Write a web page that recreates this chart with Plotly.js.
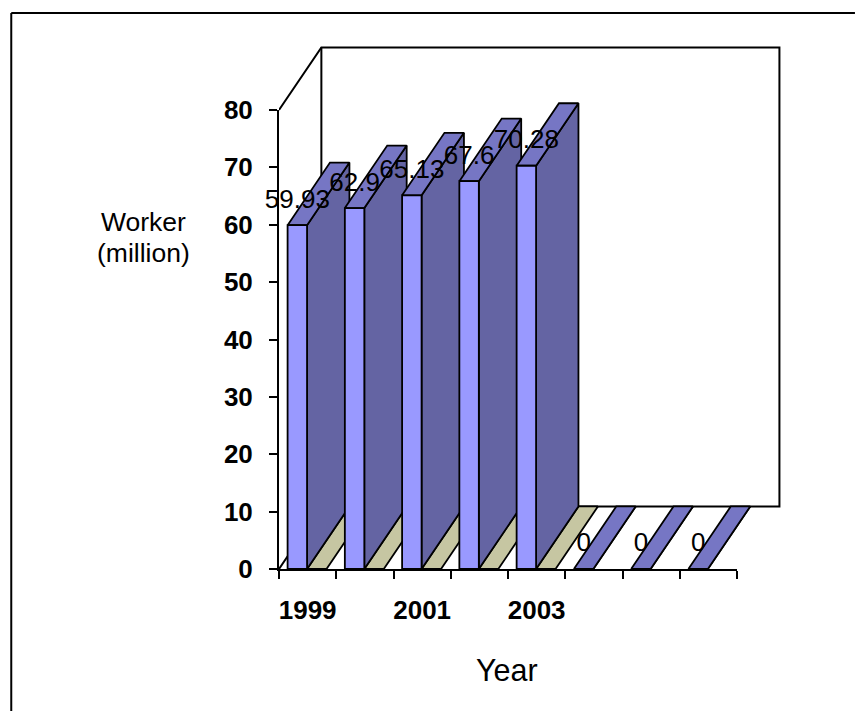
<!DOCTYPE html>
<html>
<head>
<meta charset="utf-8">
<script src="https://cdn.plot.ly/plotly-3.0.1.min.js"></script>
<style>html,body{margin:0;padding:0;background:#fff}#chart{width:855px;height:711px}</style>
</head>
<body>
<div id="chart"></div>
<script>
// Data
const workers = [59.93, 62.9, 65.13, 67.6, 70.28, 0, 0, 0];
const secondSeries = [0, 0, 0, 0, 0];
const yearTickLabels = ['1999', '2001', '2003'];
const yearTickSlots = [0, 2, 4];
const yTicks = [0, 10, 20, 30, 40, 50, 60, 70, 80];

// Oblique projection of the depth axis, in axis units
const depthX = 0.74, depthY = 10.9;
const barLeft = 0.15, barRight = 0.49, stripRight = 0.83;
const FRONT = '#9999FF', SIDE = '#6464A3', TOP = '#7676C4', KHAKI = '#C6C6A2';
const FONT = 'Liberation Sans, Arial, sans-serif';
const nCat = workers.length, yMax = 80;

const poly = (pts, color) => ({
  type: 'scatter', mode: 'lines', x: pts.map(p => p[0]), y: pts.map(p => p[1]),
  fill: 'toself', fillcolor: color, line: {color: '#000', width: 1.8, simplify: false},
  hoverinfo: 'skip', showlegend: false
});
const wallLine = (pts, w) => ({
  type: 'scatter', mode: 'lines', x: pts.map(p => p[0]), y: pts.map(p => p[1]),
  line: {color: '#000', width: w, simplify: false}, hoverinfo: 'skip', showlegend: false
});

const traces = [
  wallLine([[0, yMax], [depthX, yMax + depthY], [nCat + depthX, yMax + depthY], [nCat + depthX, depthY], [depthX, depthY], [0, 0]], 2),
  wallLine([[depthX, yMax + depthY], [depthX, depthY]], 2)
];

workers.forEach((v, i) => {
  const l = i + barLeft, r = i + barRight;
  if (i < secondSeries.length) {
    const s = secondSeries[i], e = i + stripRight;
    traces.push(poly([[r, s], [e, s], [e + depthX, s + depthY], [r + depthX, s + depthY], [r, s]], KHAKI));
  }
  traces.push(poly([[r, 0], [r + depthX, depthY], [r + depthX, v + depthY], [r, v], [r, 0]], SIDE));
  traces.push(poly([[l, v], [r, v], [r + depthX, v + depthY], [l + depthX, v + depthY], [l, v]], TOP));
  traces.push(poly([[l, 0], [r, 0], [r, v], [l, v], [l, 0]], FRONT));
});

// Data labels live on the visible axes
traces.push({
  type: 'scatter', mode: 'text', xaxis: 'x2', yaxis: 'y2',
  x: workers.map((v, i) => i + 0.32),
  y: workers.map(v => v + 4.2),
  text: workers.map(String),
  textposition: 'middle center',
  textfont: {family: FONT, size: 26, color: '#000'},
  cliponaxis: false, hoverinfo: 'skip', showlegend: false
});

// Pixel frame: the visible axes occupy L..R and T..B; the hidden axes share their scale
// but reach further, so the receding faces are not clipped.
const L = 278.5, R = 737, T = 110, B = 569, W = 855, H = 711, RX = 800, TX = 30;
const unitX = (R - L) / nCat, unitY = (B - T) / yMax;
const px = x => (x - L) / (RX - L), py = y => (B - y) / (B - TX);

const layout = {
  width: W, height: H,
  margin: {l: L, r: W - RX, t: TX, b: H - B, pad: 0},
  paper_bgcolor: '#fff', plot_bgcolor: 'rgba(0,0,0,0)',
  showlegend: false, hovermode: false,
  xaxis: {visible: false, range: [0, (RX - L) / unitX], domain: [0, 1], anchor: 'y'},
  yaxis: {visible: false, range: [0, (B - TX) / unitY], domain: [0, 1], anchor: 'x'},
  xaxis2: {
    domain: [0, px(R)], anchor: 'y2',
    range: [0, nCat], showgrid: false, zeroline: false, showline: true,
    linecolor: '#000', linewidth: 2,
    tickmode: 'array', tickvals: yearTickSlots.map(s => s + 0.5), ticktext: yearTickLabels,
    ticks: '', ticklabelstandoff: 17,
    tickfont: {family: FONT, size: 26, color: '#000', weight: 700},
    minor: {tickmode: 'array', tickvals: [0, 1, 2, 3, 4, 5, 6, 7, 8], ticks: 'outside', ticklen: 8, tickwidth: 2, tickcolor: '#000', showgrid: false}
  },
  yaxis2: {
    domain: [0, py(T)], anchor: 'x2',
    range: [0, yMax], showgrid: false, zeroline: false, showline: true,
    linecolor: '#000', linewidth: 2,
    tickmode: 'array', tickvals: yTicks, ticktext: yTicks.map(String),
    ticks: 'outside', ticklen: 8, tickwidth: 2, tickcolor: '#000', ticklabelstandoff: 11,
    tickfont: {family: FONT, size: 26, color: '#000', weight: 700}
  },
  annotations: [
    {xref: 'paper', yref: 'paper', x: px(142.5), y: py(222), xanchor: 'center', yanchor: 'middle', showarrow: false,
     text: 'Worker', font: {family: FONT, size: 26.5, color: '#000'}},
    {xref: 'paper', yref: 'paper', x: px(142.5), y: py(253), xanchor: 'center', yanchor: 'middle', showarrow: false,
     text: '(million)', font: {family: FONT, size: 26.5, color: '#000'}},
    {xref: 'paper', yref: 'paper', x: px(506.5), y: py(670), xanchor: 'center', yanchor: 'middle', showarrow: false,
     text: 'Year', font: {family: FONT, size: 30.5, color: '#000'}}
  ],
  shapes: [
    {type: 'line', xref: 'paper', yref: 'paper', x0: px(10.5), x1: px(855), y0: py(13), y1: py(13), line: {color: '#000', width: 2}},
    {type: 'line', xref: 'paper', yref: 'paper', x0: px(10.5), x1: px(10.5), y0: py(13), y1: py(711), line: {color: '#000', width: 2}}
  ]
};
Plotly.newPlot('chart', traces, layout, {displayModeBar: false, staticPlot: true});
</script>
</body>
</html>
